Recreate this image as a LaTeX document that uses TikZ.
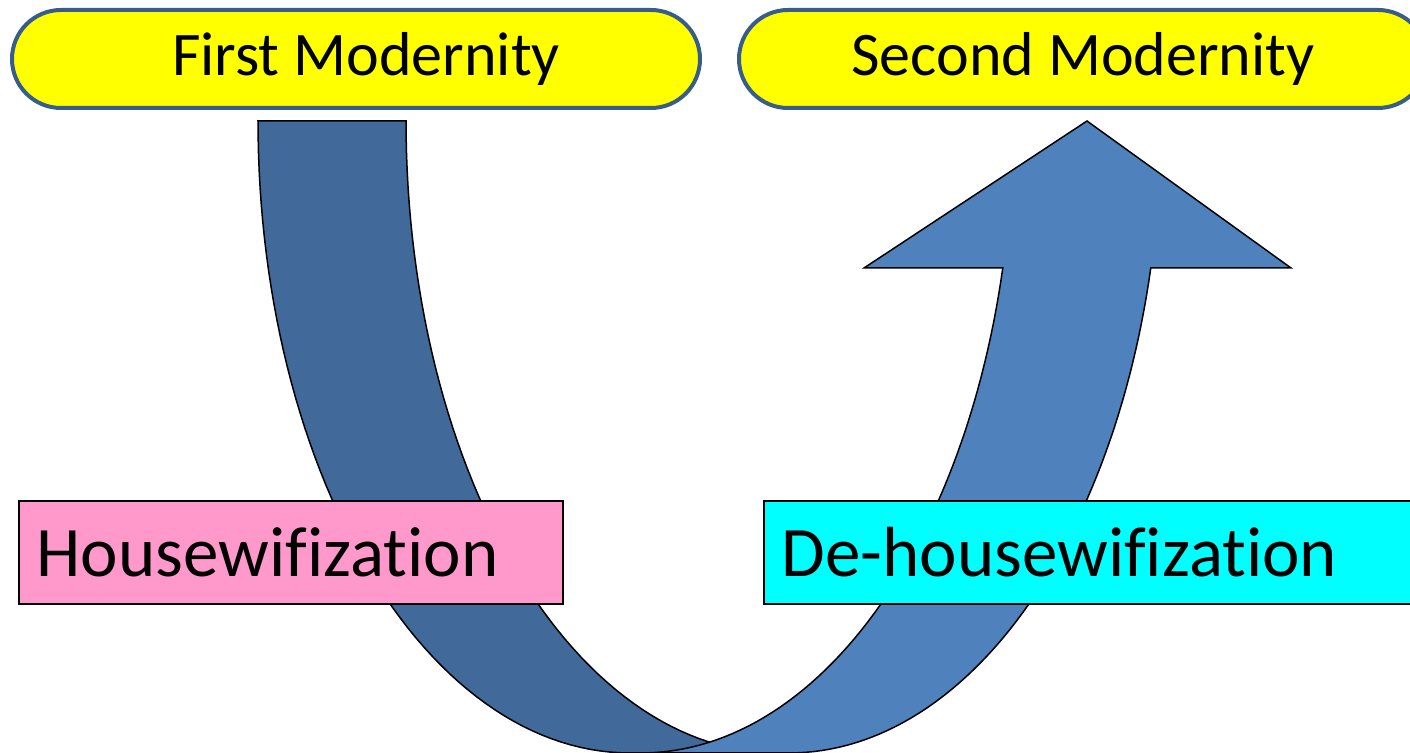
\documentclass[tikz,border=0pt]{standalone}
\usepackage{fontspec}
\setmainfont[Ligatures={NoCommon}]{Carlito}
\usepackage{xcolor}
\usetikzlibrary{positioning}
\definecolor{eraline}{RGB}{56,93,138}
\definecolor{erafill}{RGB}{255,255,0}
\definecolor{leftband}{RGB}{65,106,155}
\definecolor{rightband}{RGB}{79,129,189}
\definecolor{housepink}{RGB}{255,153,204}
\definecolor{houseaqua}{RGB}{0,255,255}
\begin{document}
\begin{tikzpicture}[x=0.5pt,y=-0.5pt,
	era/.style={draw=eraline,line width=2pt,fill=erafill,rounded corners=24.5pt,minimum width=344pt,minimum height=49pt,inner sep=0pt,font=\fontsize{31pt}{36pt}\selectfont},
	phase/.style={draw=black,line width=0.75pt,minimum height=51.5pt,inner xsep=9pt,inner ysep=0pt,align=left,anchor=west,font=\fontsize{35.5pt}{42pt}\selectfont},
	band/.style={draw=black,line width=0.75pt}]
		\useasboundingbox (0,0) rectangle (1410,753);
		\node[era] (first) at (356,59) {\hspace*{10pt}First Modernity};
		\node[era] (second) at (1083,59) {Second Modernity};
		% going down
		\draw[band,fill=leftband] plot[domain=0:90,samples=60] ({630-372*cos(\x)},{121+632*sin(\x)}) -- plot[domain=90:0,samples=60] ({778-372*cos(\x)},{121+632*sin(\x)}) -- cycle;
		% coming back up
		\coordinate (tip) at (1087,121);
		\draw[band,fill=rightband] plot[domain=90:13.45,samples=60] ({641+372*cos(\x)},{121+632*sin(\x)}) -- (864,268) -- (tip) -- (1291,268) -- plot[domain=13.45:90,samples=60] ({789+372*cos(\x)},{121+632*sin(\x)}) -- cycle;
		\node[phase,fill=housepink,text width=254pt] (housewife) at (18,552.5) {Housewifization};
		\node[phase,fill=houseaqua,text width=315.5pt] (dehousewife) at (763,552.5) {De-housewifization};
	\end{tikzpicture}
\end{document}
